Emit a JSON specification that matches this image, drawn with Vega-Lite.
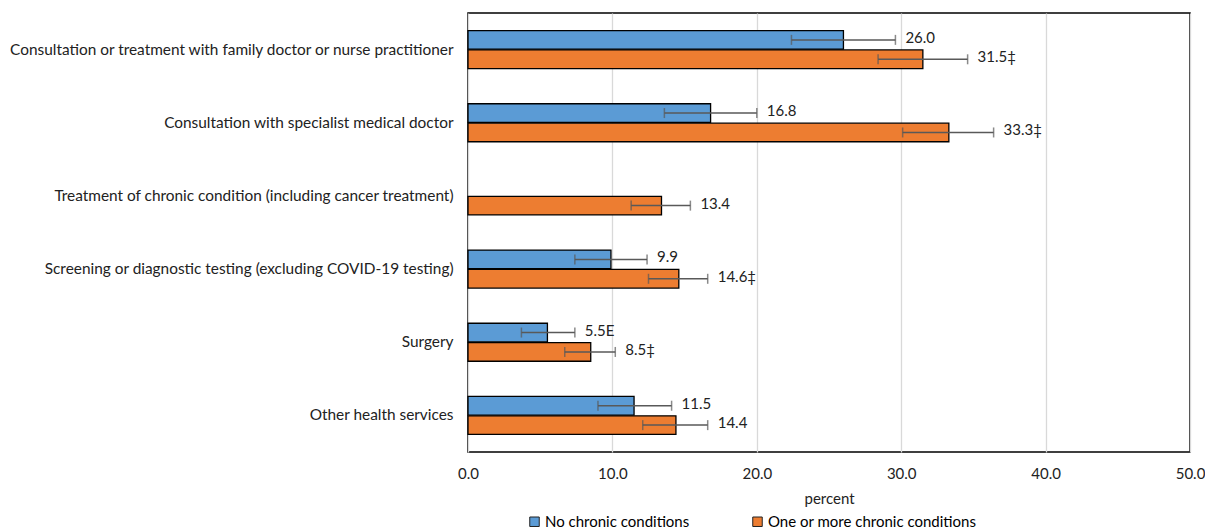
{
  "$schema": "https://vega.github.io/schema/vega-lite/v6.json",
  "autosize": {"type": "none"},
  "width": 722,
  "height": 439,
  "padding": {"left": 468, "top": 13, "right": 15, "bottom": 77},
  "background": "white",
  "config": {
    "font": "Lato",
    "view": {"stroke": "black", "strokeWidth": 1.5},
    "axis": {"labelFont": "Lato", "titleFont": "Lato", "labelColor": "#222", "titleColor": "#222"},
    "legend": {"labelFont": "Lato"}
  },
  "data": {
    "values": [
      {"category": "Consultation or treatment with family doctor or nurse practitioner", "group": "No chronic conditions", "value": 26.0, "lo": 22.4, "hi": 29.6, "label": "26.0"},
      {"category": "Consultation or treatment with family doctor or nurse practitioner", "group": "One or more chronic conditions", "value": 31.5, "lo": 28.4, "hi": 34.6, "label": "31.5‡"},
      {"category": "Consultation with specialist medical doctor", "group": "No chronic conditions", "value": 16.8, "lo": 13.6, "hi": 20.0, "label": "16.8"},
      {"category": "Consultation with specialist medical doctor", "group": "One or more chronic conditions", "value": 33.3, "lo": 30.1, "hi": 36.4, "label": "33.3‡"},
      {"category": "Treatment of chronic condition (including cancer treatment)", "group": "One or more chronic conditions", "value": 13.4, "lo": 11.3, "hi": 15.4, "label": "13.4"},
      {"category": "Screening or diagnostic testing (excluding COVID-19 testing)", "group": "No chronic conditions", "value": 9.9, "lo": 7.4, "hi": 12.4, "label": "9.9"},
      {"category": "Screening or diagnostic testing (excluding COVID-19 testing)", "group": "One or more chronic conditions", "value": 14.6, "lo": 12.5, "hi": 16.6, "label": "14.6‡"},
      {"category": "Surgery", "group": "No chronic conditions", "value": 5.5, "lo": 3.7, "hi": 7.4, "label": "5.5E"},
      {"category": "Surgery", "group": "One or more chronic conditions", "value": 8.5, "lo": 6.7, "hi": 10.2, "label": "8.5‡"},
      {"category": "Other health services", "group": "No chronic conditions", "value": 11.5, "lo": 9.0, "hi": 14.1, "label": "11.5"},
      {"category": "Other health services", "group": "One or more chronic conditions", "value": 14.4, "lo": 12.1, "hi": 16.6, "label": "14.4"}
    ]
  },
  "encoding": {
    "y": {
      "field": "category",
      "type": "nominal",
      "sort": null,
      "scale": {
        "domain": [
          "Consultation or treatment with family doctor or nurse practitioner",
          "Consultation with specialist medical doctor",
          "Treatment of chronic condition (including cancer treatment)",
          "Screening or diagnostic testing (excluding COVID-19 testing)",
          "Surgery",
          "Other health services"
        ],
        "paddingInner": 0.48,
        "paddingOuter": 0.24
      },
      "axis": {
        "title": null,
        "domain": false,
        "ticks": false,
        "labelFontSize": 15.4,
        "labelPadding": 15,
        "labelLimit": 600
      }
    },
    "yOffset": {
      "field": "group",
      "type": "nominal",
      "scale": {"domain": ["No chronic conditions", "One or more chronic conditions"], "paddingInner": 0.04}
    }
  },
  "layer": [
    {
      "mark": {"type": "bar", "stroke": "black", "strokeWidth": 1.3},
      "encoding": {
        "x": {
          "field": "value",
          "type": "quantitative",
          "scale": {"domain": [0, 50], "nice": false},
          "axis": {
            "title": "percent",
            "titleFontSize": 15,
            "titleFontWeight": "normal",
            "titlePadding": 10,
            "values": [0, 10, 20, 30, 40, 50],
            "format": ".1f",
            "labelFontSize": 15,
            "labelPadding": 14,
            "labelFlush": false,
            "domain": false,
            "ticks": false,
            "grid": true,
            "gridColor": "#d9d9d9",
            "gridWidth": 1.3
          }
        },
        "color": {
          "field": "group",
          "type": "nominal",
          "scale": {"domain": ["No chronic conditions", "One or more chronic conditions"], "range": ["#5b9bd5", "#ed7d31"]},
          "legend": {
            "title": null,
            "orient": "none",
            "direction": "horizontal",
            "legendX": 59,
            "legendY": 501,
            "symbolType": "square",
            "symbolSize": 90,
            "symbolStrokeColor": "#222",
            "symbolStrokeWidth": 1,
            "symbolOffset": 0,
            "labelFontSize": 15,
            "labelOffset": 3,
            "labelLimit": 400,
            "columnPadding": 60
          }
        }
      }
    },
    {
      "mark": {"type": "rule", "color": "#595959", "strokeWidth": 1.5},
      "encoding": {
        "x": {"field": "lo", "type": "quantitative"},
        "x2": {"field": "hi"}
      }
    },
    {
      "mark": {"type": "tick", "color": "#595959", "thickness": 1.5, "size": 10, "orient": "vertical"},
      "encoding": {"x": {"field": "lo", "type": "quantitative"}}
    },
    {
      "mark": {"type": "tick", "color": "#595959", "thickness": 1.5, "size": 10, "orient": "vertical"},
      "encoding": {"x": {"field": "hi", "type": "quantitative"}}
    },
    {
      "mark": {"type": "text", "align": "left", "baseline": "middle", "dx": 10, "dy": -2, "fontSize": 15, "color": "#222"},
      "encoding": {
        "x": {"field": "hi", "type": "quantitative"},
        "text": {"field": "label"}
      }
    }
  ]
}
